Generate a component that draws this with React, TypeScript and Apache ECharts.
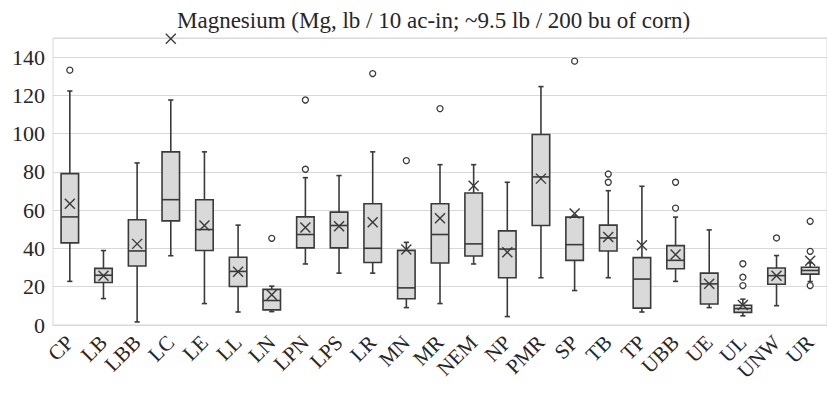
import React, { useEffect, useRef } from "react";
import * as echarts from "echarts";

const categories = ["CP", "LB", "LBB", "LC", "LE", "LL", "LN", "LPN", "LPS", "LR", "MN", "MR", "NEM", "NP", "PMR", "SP", "TB", "TP", "UBB", "UE", "UL", "UNW", "UR"];
const lowerWhisker = [22.8, 13.8, 1.6, 36.2, 11.2, 6.8, 7.0, 31.9, 27.1, 27.1, 9.1, 11.2, 31.9, 4.4, 24.7, 18.0, 24.7, 6.8, 22.8, 9.1, 4.8, 10.1, 22.7];
const q1 = [42.9, 22.2, 30.8, 54.4, 38.9, 20.1, 7.9, 40.3, 40.3, 32.7, 13.7, 32.4, 36.1, 24.7, 52.0, 33.8, 38.7, 8.8, 29.4, 11.0, 6.6, 21.3, 26.6];
const median = [56.5, 26.0, 38.7, 65.5, 49.9, 28.0, 12.8, 47.3, 52.0, 40.1, 19.4, 47.3, 42.4, 39.7, 77.4, 42.0, 45.5, 24.0, 33.8, 21.5, 8.6, 25.8, 28.5];
const q3 = [79.1, 29.6, 55.0, 90.5, 65.5, 35.4, 18.6, 56.5, 59.0, 63.4, 39.0, 63.4, 69.0, 49.2, 99.6, 56.4, 52.2, 35.2, 41.5, 27.1, 10.3, 29.8, 30.2];
const upperWhisker = [122.3, 38.9, 84.7, 117.6, 90.5, 52.2, 20.3, 77.0, 78.1, 90.5, 43.2, 83.8, 83.8, 74.6, 124.6, 57.0, 70.2, 72.5, 56.4, 49.7, 13.5, 36.3, 32.5];
const mean = [63.4, 25.7, 42.4, 149.6, 52.0, 27.8, 15.8, 50.9, 51.6, 53.7, 39.4, 55.8, 72.8, 38.0, 76.5, 58.3, 46.0, 41.7, 36.8, 21.5, 10.5, 25.8, 33.6];
const outliers: [string, number][] = [
  ["CP", 133.2], ["LN", 45.3], ["LPN", 117.6], ["LPN", 81.4], ["LR", 131.4],
  ["MN", 85.9], ["MR", 113.1], ["SP", 137.9], ["TB", 78.9], ["TB", 74.6],
  ["UBB", 74.6], ["UBB", 61.1], ["UL", 32.0], ["UL", 25.0], ["UL", 20.6],
  ["UNW", 45.5], ["UR", 54.2], ["UR", 38.5], ["UR", 20.6],
];
const yTicks = [0, 20, 40, 60, 80, 100, 120, 140];

const DARK = "#3a3a3a";
const FILL = "#d9d9d9";
const GRID = "#d9d9d9";
const TEXT = "#262626";
const SERIF = "Liberation Serif";

export default function App() {
  const ref = useRef<HTMLDivElement>(null);

  useEffect(() => {
    if (!ref.current) return;
    const chart = echarts.init(ref.current, undefined, { renderer: "svg" });

    const boxData = categories.map((_, i) => [i, lowerWhisker[i], q1[i], median[i], q3[i], upperWhisker[i], mean[i]]);

    // One box per category: whiskers with short caps, box, median line and an X at the mean.
    const renderBox = (params: any, api: any) => {
      const idx = api.value(0);
      const band = api.size([1, 0])[0];
      const half = band * 0.26;
      const cap = 2.6;
      const p = (v: number) => api.coord([idx, v]);
      const lo = p(api.value(1));
      const b1 = p(api.value(2));
      const md = p(api.value(3));
      const b3 = p(api.value(4));
      const hi = p(api.value(5));
      const mn = p(api.value(6));
      const x = lo[0];
      const lineStyle = { stroke: DARK, lineWidth: 1.6, fill: null };
      const xs = 5;
      return {
        type: "group",
        children: [
          { type: "line", shape: { x1: x, y1: b3[1], x2: x, y2: hi[1] }, style: lineStyle },
          { type: "line", shape: { x1: x - cap, y1: hi[1], x2: x + cap, y2: hi[1] }, style: lineStyle },
          { type: "line", shape: { x1: x, y1: b1[1], x2: x, y2: lo[1] }, style: lineStyle },
          { type: "line", shape: { x1: x - cap, y1: lo[1], x2: x + cap, y2: lo[1] }, style: lineStyle },
          {
            type: "rect",
            shape: { x: x - half, y: b3[1], width: half * 2, height: b1[1] - b3[1] },
            style: { fill: FILL, stroke: DARK, lineWidth: 1.6 },
          },
          { type: "line", shape: { x1: x - half, y1: md[1], x2: x + half, y2: md[1] }, style: lineStyle },
          { type: "line", shape: { x1: x - xs, y1: mn[1] - xs, x2: x + xs, y2: mn[1] + xs }, style: { stroke: DARK, lineWidth: 1.4 } },
          { type: "line", shape: { x1: x - xs, y1: mn[1] + xs, x2: x + xs, y2: mn[1] - xs }, style: { stroke: DARK, lineWidth: 1.4 } },
        ],
      };
    };

    chart.setOption({
      animation: false,
      title: {
        text: "Magnesium (Mg, lb / 10 ac-in; ~9.5 lb / 200 bu of corn)",
        left: 172,
        top: 4,
        textStyle: { fontFamily: SERIF, fontSize: 23, fontWeight: "normal", color: TEXT },
      },
      grid: {
        left: 53,
        top: 38,
        width: 780,
        bottom: 72,
        show: true,
        borderColor: GRID,
        borderWidth: 1,
        containLabel: false,
      },
      xAxis: {
        type: "category",
        data: categories,
        boundaryGap: true,
        axisLine: { show: true, lineStyle: { color: GRID, width: 1 } },
        axisTick: { show: false },
        axisLabel: {
          rotate: 45,
          interval: 0,
          margin: 14,
          fontFamily: SERIF,
          fontSize: 21,
          color: TEXT,
        },
        splitLine: { show: false },
      },
      yAxis: {
        type: "value",
        min: 0,
        max: 150,
        interval: 20,
        axisLine: { show: false },
        axisTick: { show: false },
        axisLabel: {
          margin: 8,
          fontFamily: SERIF,
          fontSize: 22,
          color: TEXT,
          showMaxLabel: false,
          formatter: (v: number) => (yTicks.includes(v) ? String(v) : ""),
        },
        splitLine: { show: true, lineStyle: { color: GRID, width: 1 } },
      },
      series: [
        {
          type: "custom",
          renderItem: renderBox,
          data: boxData,
          encode: { x: 0, y: [1, 2, 3, 4, 5, 6] },
          clip: false,
          z: 2,
        },
        {
          type: "scatter",
          data: outliers,
          symbol: "circle",
          symbolSize: 6,
          itemStyle: { color: "#ffffff", borderColor: DARK, borderWidth: 1.3, opacity: 1 },
          z: 3,
        },
      ],
    });

    return () => chart.dispose();
  }, []);

  return (
    <div
      ref={ref}
      style={{ position: "fixed", left: 0, top: 0, width: 827, height: 397, background: "#ffffff" }}
    />
  );
}
